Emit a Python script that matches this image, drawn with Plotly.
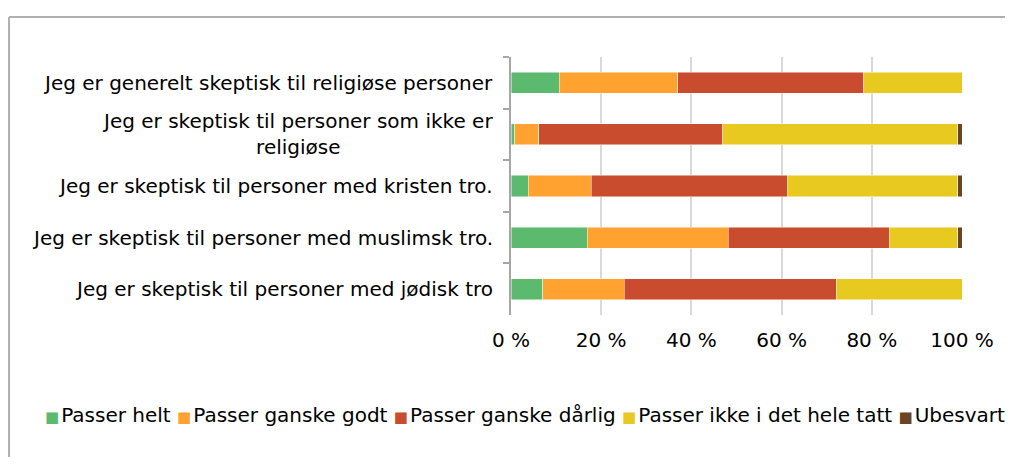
import plotly.graph_objects as go

# Statements (top to bottom as shown in the chart)
statements = [
    "Jeg er generelt skeptisk til religiøse personer",
    "Jeg er skeptisk til personer som ikke er<br>religiøse",
    "Jeg er skeptisk til personer med kristen tro.",
    "Jeg er skeptisk til personer med muslimsk tro.",
    "Jeg er skeptisk til personer med jødisk tro",
]

# Answer categories and their shares (%)
answers = ["Passer helt", "Passer ganske godt", "Passer ganske dårlig",
           "Passer ikke i det hele tatt", "Ubesvart"]
passer_helt = [10.7, 0.8, 3.8, 16.9, 7.0]
passer_ganske_godt = [26.3, 5.3, 14.0, 31.3, 18.1]
passer_ganske_darlig = [41.2, 40.8, 43.4, 35.7, 47.0]
passer_ikke = [21.8, 52.2, 37.9, 15.2, 27.9]
ubesvart = [0.0, 0.9, 0.9, 0.9, 0.0]

x_ticks = [0, 20, 40, 60, 80, 100]
x_ticklabels = ["0 %", "20 %", "40 %", "60 %", "80 %", "100 %"]

colors = ["#5bba6d", "#ffa22f", "#c84c2d", "#e8c91f", "#6b4423"]
series = [passer_helt, passer_ganske_godt, passer_ganske_darlig, passer_ikke, ubesvart]

FONT = "DejaVu Sans"
FS = 20

fig = go.Figure()
for name, vals, col in zip(answers, series, colors):
    fig.add_trace(go.Bar(
        y=statements, x=vals, name=name, orientation="h",
        marker=dict(color=col, line=dict(color="rgba(255,255,255,0.6)", width=0.8)),
        showlegend=False,
    ))

# page body adds an 8px margin; figure reaches the right window edge, no vertical scroll
fig.update_layout(
    barmode="stack",
    bargap=0.59,
    width=1005, height=449,
    margin=dict(l=503, r=51, t=49, b=142),
    plot_bgcolor="white", paper_bgcolor="white",
    font=dict(family=FONT, size=FS, color="#000000"),
)

fig.update_xaxes(
    range=[0, 100], tickvals=x_ticks, ticktext=x_ticklabels,
    showgrid=True, gridcolor="#d9d9d9", gridwidth=2,
    zeroline=False, showline=False, ticks="", ticklabelstandoff=11,
)
fig.update_yaxes(
    categoryorder="array", categoryarray=statements, autorange="reversed",
    showticklabels=False, tickson="boundaries", ticks="outside",
    ticklen=6, tickwidth=2, tickcolor="#a6a6a6",
    showline=True, linecolor="#a6a6a6", linewidth=2, showgrid=False,
)

# category labels (centred multi-line, right edge near the axis)
for s in statements:
    fig.add_annotation(
        x=0, xref="paper", y=s, yref="y", text=s, showarrow=False,
        xanchor="right", align="center", xshift=-16,
        font=dict(family=FONT, size=FS),
    )

# legend line
parts = []
for name, col in zip(answers, colors):
    parts.append(f"<span style='color:{col};font-size:15px'>■</span>\u200a{name}")
fig.add_annotation(
    x=0.03, xref="paper", y=-0.386, yref="paper", showarrow=False,
    xanchor="center", yanchor="middle",
    text="&nbsp;".join(parts), font=dict(family=FONT, size=FS),
)

# outer chart frame (only top and left edges are inside the view)
fig.add_shape(type="line", xref="paper", yref="paper",
              x0=-1.113, x1=1.3, y0=1.155, y1=1.155,
              line=dict(color="#b0b0b0", width=2), layer="below")
fig.add_shape(type="line", xref="paper", yref="paper",
              x0=-1.113, x1=-1.113, y0=-0.8, y1=1.155,
              line=dict(color="#b0b0b0", width=2), layer="below")

fig.write_html("out.html")
